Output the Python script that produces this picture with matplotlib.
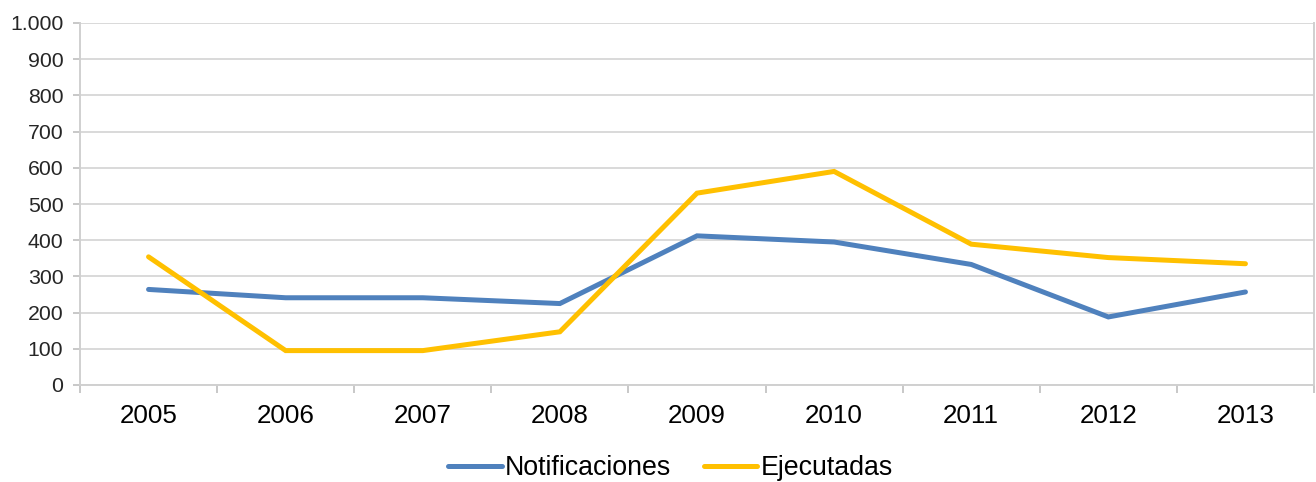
import matplotlib
matplotlib.use("Agg")
import matplotlib.pyplot as plt
from matplotlib.ticker import FuncFormatter, FixedLocator

years = ["2005", "2006", "2007", "2008", "2009", "2010", "2011", "2012", "2013"]
notificaciones = [264, 241, 241, 225, 412, 395, 333, 188, 257]
ejecutadas = [354, 95, 95, 147, 530, 590, 389, 352, 335]
yticks = [0, 100, 200, 300, 400, 500, 600, 700, 800, 900, 1000]

plt.rcParams['font.family'] = ['Liberation Sans', 'DejaVu Sans']

fig = plt.figure(figsize=(13.16, 4.82), dpi=100)
ax = fig.add_axes([80/1316, 1-385/482, (1314-80)/1316, (385-23)/482])

x = list(range(len(years)))
ax.plot(x, notificaciones, color='#4F81BD', lw=3.6, solid_joinstyle='miter',
        solid_capstyle='round', label='Notificaciones', zorder=3)
ax.plot(x, ejecutadas, color='#FFC000', lw=3.6, solid_joinstyle='miter',
        solid_capstyle='round', label='Ejecutadas', zorder=3)

ax.set_xlim(-0.5, len(years) - 0.5)
ax.set_ylim(0, 1000)
ax.set_yticks(yticks)
ax.yaxis.set_major_formatter(FuncFormatter(lambda v, p: f"{int(v):,}".replace(",", ".")))
ax.grid(axis='y', color='#D9D9D9', lw=1.4, zorder=0)
ax.set_axisbelow(True)

ax.set_xticks(x)
ax.set_xticklabels(years)
ax.xaxis.set_minor_locator(FixedLocator([i - 0.5 for i in range(len(years) + 1)]))
ax.tick_params(axis='x', which='major', length=0, labelsize=18.7, pad=14, colors='#000000')
ax.tick_params(axis='x', which='minor', length=6, width=1.2, color='#BFBFBF')
ax.tick_params(axis='y', length=5, width=1.2, color='#BFBFBF', labelsize=15.3, pad=7,
               labelcolor='#262626')

for s in ['left', 'bottom', 'right']:
    ax.spines[s].set_color('#D0D0D0')
    ax.spines[s].set_linewidth(1.4)
ax.spines['top'].set_visible(False)

leg = fig.legend(loc='center', bbox_to_anchor=(0.5095, 1-468/482), ncol=2, frameon=False,
                 fontsize=19.3, handlelength=2.0, handletextpad=0.12, columnspacing=1.2)

fig.savefig("out.png", dpi=100)
